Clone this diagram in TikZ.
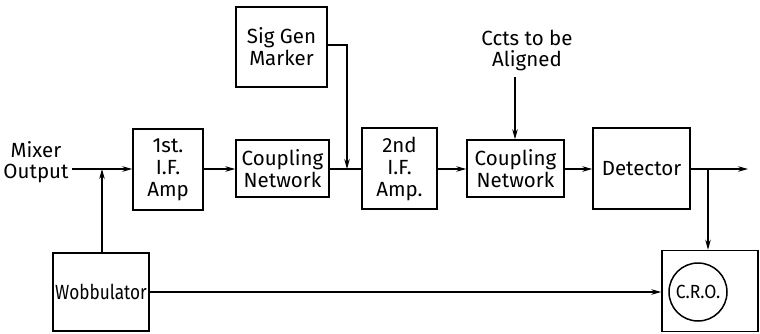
\documentclass[tikz,border=0pt]{standalone}
\usepackage{fontspec}
\setmainfont{Fira Sans}
\usetikzlibrary{arrows.meta,calc}
\begin{document}
\begin{tikzpicture}[x=1pt,y=-1pt,
  box/.style={draw,line width=1.5pt,inner sep=0pt,align=center,font=\fontsize{20.5}{22}\selectfont},
  lbl/.style={inner sep=0pt,align=center,font=\fontsize{20.5}{21}\selectfont},
  conn/.style={line width=1.1pt},
  arr/.style={conn,-{Stealth[length=10pt,width=5.5pt]}}]
\useasboundingbox (0,0) rectangle (760,333);
\node[box,minimum width=70,minimum height=81] (amp1) at (168,169.5) {1st.\\I.F.\\Amp};
\node[box,minimum width=93,minimum height=57] (cn1) at (282.5,168.5) {Coupling\\Network};
\node[box,minimum width=91,minimum height=80] (sig) at (281.5,47) {Sig Gen\\Marker};
\node[box,minimum width=75,minimum height=81] (amp2) at (399.5,168.5) {2nd\\I.F.\\Amp.};
\node[box,minimum width=97,minimum height=57] (cn2) at (515.5,168.5) {Coupling\\Network};
\node[box,minimum width=97,minimum height=81] (det) at (641.5,168.5) {Detector};
\node[box,minimum width=96,minimum height=78] (wob) at (101,292) {\scalebox{0.84}[1]{Wobbulator}};
\node[box,minimum width=96,minimum height=81] (cro) at (710,291) {};
\node[draw,circle,line width=1.5pt,minimum size=58,inner sep=0pt,font=\fontsize{19}{20}\selectfont] (scr) at (698,292) {\scalebox{0.92}[1]{C.R.O.}};
\node[lbl] (mix) at (36,162) {Mixer\\Output};
\node[lbl] (ccts) at (527,50) {Ccts to be\\Aligned};
\coordinate (min) at (72,169);
\coordinate (out) at (748,169);
\coordinate (jw) at (102,169);
\coordinate (js) at (347,169);
\coordinate (jd) at (708,169);
\draw[arr] (min) -- (amp1.west |- min);
\draw[arr] (wob.north -| jw) -- (jw);
\draw[arr] (amp1.east |- min) -- (cn1.west |- min);
\draw[conn] (cn1.east |- min) -- (amp2.west |- min);
\draw[arr] (amp2.east |- min) -- (cn2.west |- min);
\draw[arr] (cn2.east |- min) -- (det.west |- min);
\draw[arr] (det.east |- min) -- (out);
\draw[arr] (jd) -- (cro.north -| jd);
\draw[arr] (wob.east |- scr) -- (cro.west |- scr);
\draw[arr] (sig.east |- 0,45) -| (js);
\draw[arr] (515,77) -- (cn2.north -| 515,0);
\end{tikzpicture}
\end{document}
